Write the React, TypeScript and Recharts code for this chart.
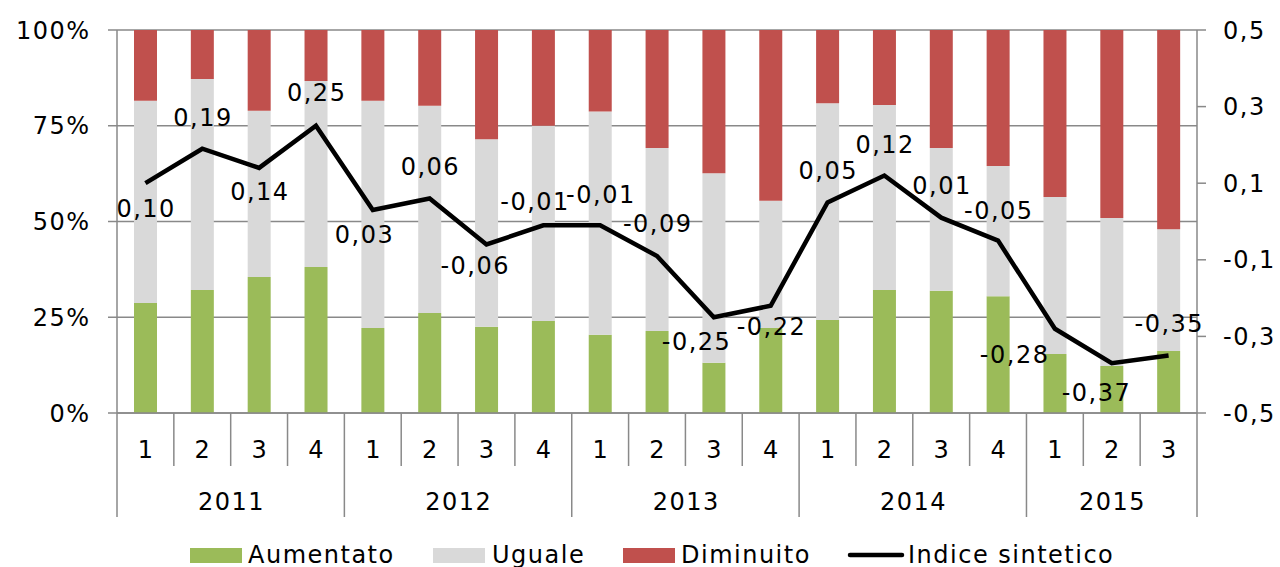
import {
  Bar,
  CartesianGrid,
  ComposedChart,
  LabelList,
  Line,
  XAxis,
  YAxis,
} from "recharts";

const quarters = ["1", "2", "3", "4", "1", "2", "3", "4", "1", "2", "3", "4", "1", "2", "3", "4", "1", "2", "3"];
const years = [
  "2011", "2011", "2011", "2011",
  "2012", "2012", "2012", "2012",
  "2013", "2013", "2013", "2013",
  "2014", "2014", "2014", "2014",
  "2015", "2015", "2015",
];
const aumentato = [28.7, 32.1, 35.5, 38.1, 22.2, 26.1, 22.5, 24.0, 20.4, 21.4, 13.1, 22.2, 24.3, 32.1, 31.9, 30.5, 15.4, 12.3, 16.2];
const uguale = [52.8, 55.1, 43.4, 48.6, 59.3, 54.1, 49.0, 51.0, 58.3, 47.8, 49.5, 33.2, 56.6, 48.3, 37.3, 34.0, 41.0, 38.6, 31.8];
const diminuito = [18.5, 12.8, 21.1, 13.3, 18.5, 19.8, 28.5, 25.0, 21.3, 30.8, 37.4, 44.6, 19.1, 19.6, 30.8, 35.5, 43.6, 49.1, 52.0];
const indice = [0.1, 0.19, 0.14, 0.25, 0.03, 0.06, -0.06, -0.01, -0.01, -0.09, -0.25, -0.22, 0.05, 0.12, 0.01, -0.05, -0.28, -0.37, -0.35];

const pctTicks = [0, 25, 50, 75, 100];
const idxTicks = [-0.5, -0.3, -0.1, 0.1, 0.3, 0.5];

// where each data label sits relative to its point (dx, dy)
const labelOffsets = [
  [0, 25], [0, -31], [0, 24], [0, -33], [-9, 24], [0, -32], [-12, 21], [-9, -24],
  [0, -31], [0, -32], [-18, 24], [0, 21], [0, -32], [0, -31], [0, -32], [0, -30],
  [-41, 26], [-16, 29], [0, -32],
];

const rows = quarters.map((q, i) => ({
  q,
  year: years[i],
  aumentato: aumentato[i],
  uguale: uguale[i],
  diminuito: diminuito[i],
  indice: indice[i],
}));

const W = 1280;
const H = 530;
const LEFT_W = 117;
const RIGHT_W = 83;
const BAND = (W - LEFT_W - RIGHT_W) / rows.length;
const Q_H = 53;
const Y_H = 51;
const FONT = "'DejaVu Sans', Verdana, sans-serif";
const AXIS = "#898989";

const GREEN = "#9BBB59";
const GREY = "#D9D9D9";
const RED = "#C0504D";

const comma = (v: number, d: number) => v.toFixed(d).replace(".", ",");

function QuarterTick(props: any) {
  const { x, y, payload } = props;
  const i = payload.index;
  const yearStart = i === 0 || years[i] !== years[i - 1];
  const last = i === rows.length - 1;
  return (
    <g>
      <line
        x1={x - BAND / 2}
        x2={x - BAND / 2}
        y1={y}
        y2={y + (yearStart ? Q_H + Y_H : Q_H)}
        stroke={AXIS}
        strokeWidth={1.5}
      />
      {last && (
        <line x1={x + BAND / 2} x2={x + BAND / 2} y1={y} y2={y + Q_H + Y_H} stroke={AXIS} strokeWidth={1.5} />
      )}
      <text x={x + 0.75} y={y + 36} dy="0.355em" textAnchor="middle" fontSize={24} fontFamily={FONT} fill="#000">
        {quarters[i]}
      </text>
    </g>
  );
}

function YearTick(props: any) {
  const { x, y, payload } = props;
  const i = payload.index;
  if (i > 0 && years[i] === years[i - 1]) return <g />;
  let end = i;
  while (end + 1 < years.length && years[end + 1] === years[i]) end++;
  const cx = x + ((end - i) / 2) * BAND;
  return (
    <text x={cx + 0.75} y={y + 35} dy="0.355em" textAnchor="middle" fontSize={24} fontFamily={FONT} fill="#000">
      {years[i]}
    </text>
  );
}

function PointLabel(props: any) {
  const { x, y, value, index } = props;
  const [dx, dy] = labelOffsets[index] || [0, -30];
  return (
    <text x={x + dx + 0.75} y={y + dy} dy="0.355em" textAnchor="middle" fontSize={24} fontFamily={FONT} fill="#000">
      {comma(value, 2)}
    </text>
  );
}

const legendItems = [
  { name: "Aumentato", color: GREEN, x: 190, tx: 248, kind: "rect" },
  { name: "Uguale", color: GREY, x: 433, tx: 492, kind: "rect" },
  { name: "Diminuito", color: RED, x: 623, tx: 681, kind: "rect" },
  { name: "Indice sintetico", color: "#000", x: 850, tx: 908, kind: "line" },
];

export default function App() {
  return (
    <div
      style={{
        position: "absolute",
        left: 0,
        top: 0,
        width: 1280,
        height: 567,
        overflow: "hidden",
        background: "#fff",
        fontFamily: FONT,
        letterSpacing: "1.5px",
      }}
    >
      <ComposedChart
        width={W}
        height={H}
        data={rows}
        margin={{ top: 30, right: 0, left: 0, bottom: H - 30 - 383 - Q_H - Y_H }}
        barSize={23}
      >
        <CartesianGrid yAxisId="pct" xAxisId="q" vertical={false} stroke={AXIS} strokeWidth={1.5} />
        <XAxis
          xAxisId="q"
          dataKey="q"
          height={Q_H}
          interval={0}
          tickLine={false}
          tickSize={0}
          tickMargin={0}
          axisLine={{ stroke: AXIS, strokeWidth: 1.5 }}
          tick={<QuarterTick />}
        />
        <XAxis
          xAxisId="yr"
          dataKey="q"
          height={Y_H}
          interval={0}
          tickLine={false}
          tickSize={0}
          tickMargin={0}
          axisLine={false}
          tick={<YearTick />}
        />
        <YAxis
          yAxisId="pct"
          width={LEFT_W}
          domain={[0, 100]}
          ticks={pctTicks}
          interval={0}
          tickSize={9}
          tickMargin={17.5}
          tickFormatter={(v: number) => `${v}%`}
          axisLine={{ stroke: AXIS, strokeWidth: 1.5 }}
          tickLine={{ stroke: AXIS, strokeWidth: 1.5 }}
          tick={{ fontSize: 24, fontFamily: FONT, fill: "#000" }}
        />
        <YAxis
          yAxisId="idx"
          orientation="right"
          width={RIGHT_W}
          domain={[-0.5, 0.5]}
          ticks={idxTicks}
          interval={0}
          tickSize={9}
          tickMargin={17}
          tickFormatter={(v: number) => comma(v, 1)}
          axisLine={{ stroke: AXIS, strokeWidth: 1.5 }}
          tickLine={{ stroke: AXIS, strokeWidth: 1.5 }}
          tick={{ fontSize: 24, fontFamily: FONT, fill: "#000" }}
        />
        <Bar xAxisId="q" yAxisId="pct" dataKey="aumentato" stackId="s" fill={GREEN} isAnimationActive={false} />
        <Bar xAxisId="q" yAxisId="pct" dataKey="uguale" stackId="s" fill={GREY} isAnimationActive={false} />
        <Bar xAxisId="q" yAxisId="pct" dataKey="diminuito" stackId="s" fill={RED} isAnimationActive={false} />
        <Line
          xAxisId="q"
          yAxisId="idx"
          type="linear"
          dataKey="indice"
          stroke="#000"
          strokeWidth={4.5}
          dot={false}
          isAnimationActive={false}
        >
          <LabelList dataKey="indice" content={<PointLabel />} />
        </Line>
      </ComposedChart>

      {/* Legend */}
      <svg width={1280} height={30} style={{ position: "absolute", left: 0, top: 540 }}>
        {legendItems.map((it) => (
          <g key={it.name}>
            {it.kind === "rect" ? (
              <rect x={it.x} y={8} width={52} height={15} fill={it.color} />
            ) : (
              <line x1={it.x} x2={it.x + 52} y1={15} y2={15} stroke={it.color} strokeWidth={4.5} strokeLinecap="round" />
            )}
            <text x={it.tx} y={23} fontSize={24} fontFamily={FONT} fill="#000">
              {it.name}
            </text>
          </g>
        ))}
      </svg>
    </div>
  );
}
